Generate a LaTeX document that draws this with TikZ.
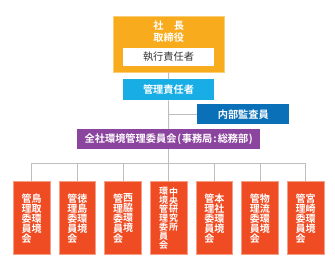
\documentclass[tikz,border=0pt]{standalone}
\usepackage{fontspec}
\setmainfont{Noto Sans CJK JP}[BoldFont={Noto Sans CJK JP Bold}]
\usetikzlibrary{positioning}
\definecolor{ceoorange}{HTML}{F8AB1C}
\definecolor{mgrblue}{HTML}{18AEE5}
\definecolor{auditblue}{HTML}{0A70B8}
\definecolor{councilpurple}{HTML}{8C459E}
\definecolor{sitered}{HTML}{EF4C23}
\definecolor{linkgray}{HTML}{BEBEBE}
\definecolor{labelgray}{HTML}{333333}

\begin{document}
\begin{tikzpicture}[x=1pt, y=1pt,
  box/.style={inner sep=0pt, text=white, font=\fontsize{10.2}{12}\selectfont\bfseries},
  sitebox/.style={fill=sitered, draw=sitered!55!white, line width=0.5pt, minimum width=36.7pt, minimum height=73pt, inner sep=0pt},
  link/.style={draw=linkgray, line width=0.9pt},
  tate/.style={inner sep=0pt, align=center, text=white, yshift=-12.8pt, font=\fontsize{10}{10}\selectfont\bfseries},
  tatesmall/.style={tate, yshift=6.3pt, font=\fontsize{9}{8.9}\selectfont\bfseries}]
  \useasboundingbox (0,0) rectangle (335,-266);
  \node[box, fill=ceoorange, draw=ceoorange!60!white, line width=0.5pt, minimum width=110.7pt, minimum height=56pt] (ceo) at (168.7,-44) {};
  \node[box, align=center] (ceolabel) at (168.7,-31.6) {社　長\\取締役};
  \node[fill=white, minimum width=91.6pt, minimum height=18.3pt, inner sep=0pt, text=labelgray, font=\fontsize{10.2}{12}\selectfont] (exec) at (168.5,-56.8) {執行責任者};
  \node[box, fill=mgrblue, minimum width=91.6pt, minimum height=20.7pt] (mgr) at (168.5,-89.7) {管理責任者};
  \node[box, fill=auditblue, minimum width=92pt, minimum height=19.7pt] (audit) at (243.3,-114.2) {内部監査員};
  \node[box, fill=councilpurple, minimum width=182.7pt, minimum height=20pt] (council) at (168.7,-139) {全社環境管理委員会\kern1pt(\kern0.5pt事務局\kern1pt:\kern1pt総務部\kern0.5pt)};
  \coordinate (busL) at (31.7,-163.3);
  \coordinate (busR) at (305.6,-163.3);
  \draw[link] (ceo.south) -- (mgr.north);
  \draw[link] (mgr.south) -- (council.north);
  \draw[link] (mgr.south |- audit.west) -- (audit.west);
  \draw[link] (council.south) -- (council.south |- busL);
  \draw[link] (busL) -- (busR);
  \foreach \r/\l/\st [count=\i from 0] in {
      {鳥\\取\\環\\境}/{管\\理\\委\\員\\会}/tate,
      {徳\\島\\環\\境}/{管\\理\\委\\員\\会}/tate,
      {西\\脇\\環\\境}/{管\\理\\委\\員\\会}/tate,
      {中\\央\\研\\究\\所}/{環\\境\\管\\理\\委\\員\\会}/tatesmall,
      {本\\社\\環\\境}/{管\\理\\委\\員\\会}/tate,
      {物\\流\\環\\境}/{管\\理\\委\\員\\会}/tate,
      {宮\\崎\\環\\境}/{管\\理\\委\\員\\会}/tate} {
    \node[sitebox] (c\i) at (31.7+45.65*\i,-217.5) {};
    \node[\st, anchor=north, xshift=5pt] at (c\i.north) {\r};
    \node[\st, anchor=north, xshift=-5pt] at (c\i.north) {\l};
    \draw[link] (c\i.north) -- (c\i.north |- busL);
  }
\end{tikzpicture}
\end{document}
